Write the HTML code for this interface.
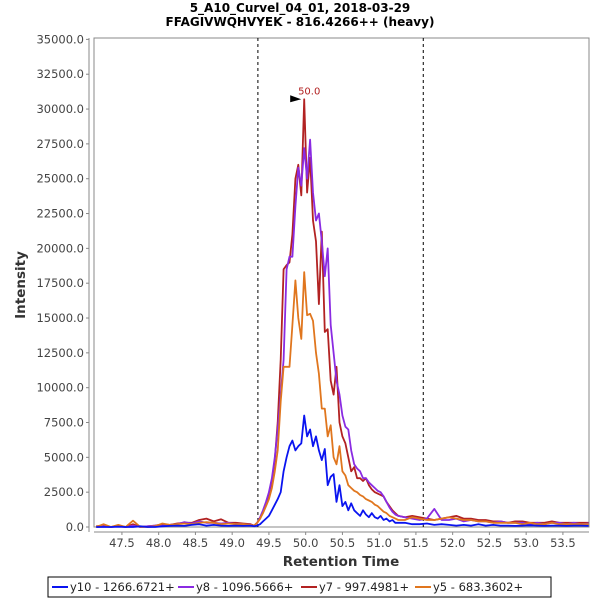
<!DOCTYPE html>
<html><head><meta charset="utf-8"><style>
body{margin:0;background:#fff;font-family:"DejaVu Sans",sans-serif;}
#wrap{position:relative;width:600px;height:600px;}
svg text{font-family:"DejaVu Sans",sans-serif;}
</style></head><body>
<div id="wrap">
<svg id="svg" width="600" height="600" xmlns="http://www.w3.org/2000/svg">
<text x="300" y="12" text-anchor="middle" font-size="12" font-weight="bold">5_A10_Curvel_04_01, 2018-03-29</text>
<text x="300" y="26" text-anchor="middle" font-size="12" font-weight="bold">FFAGIVWQHVYEK - 816.4266++ (heavy)</text>
<text transform="translate(25,285) rotate(-90)" text-anchor="middle" font-size="13.5" font-weight="bold" fill="#333">Intensity</text>
<text x="341" y="566" text-anchor="middle" font-size="13.5" font-weight="bold" fill="#333">Retention Time</text>
</svg>
</div>
<script>
const baseTimes=[47.15,47.25,47.35,47.45,47.55,47.65,47.75,47.85,47.95,48.05,48.15,48.25,48.35,48.45,48.55,48.65,48.75,48.85,48.95,49.05,49.15,49.25];
const peakTimes=[49.30,49.34,49.38,49.42,49.46,49.50,49.54,49.58,49.62,49.66,49.70,49.74,49.78,49.82,49.86,49.90,49.94,49.98,50.02,50.06,50.10,50.14,50.18,50.22,50.26,50.30,50.34,50.38,50.42,50.46,50.50,50.54,50.58,50.62,50.66,50.70,50.74,50.78,50.82,50.86,50.90,50.94,50.98,51.02,51.06,51.10,51.14,51.18,51.22,51.26];
const tailTimes=[51.35,51.45,51.55,51.65,51.75,51.85,51.95,52.05,52.15,52.25,52.35,52.45,52.55,52.65,52.75,52.85,52.95,53.05,53.15,53.25,53.35,53.45,53.55,53.65,53.75,53.85];
const times=baseTimes.concat(peakTimes,tailTimes);
const y10=[0,0,0,20,0,0,50,0,0,50,80,100,80,150,200,100,150,100,80,100,80,100,
50,100,200,400,600,800,1200,1600,2000,2500,4000,5000,5800,6200,5500,5800,6000,8000,6500,7000,5800,6500,5500,4800,5600,3000,3600,3800,1800,3000,1500,1800,1200,1700,1200,1000,800,1200,900,700,1000,700,600,800,500,600,400,500,300,300,
300,200,200,250,150,200,150,100,150,100,200,100,150,100,100,80,100,120,100,80,100,100,80,100,100,80];
const y8=[0,50,0,50,0,100,0,50,100,100,150,200,350,250,400,300,300,250,300,200,200,150,
100,300,700,1200,1800,2500,3500,5000,7000,9500,12000,18500,19400,19400,23000,25800,24500,27200,25000,27800,24000,22000,22500,20500,18000,20000,14500,12500,10500,9500,8000,7200,7000,5500,4500,4200,4000,3500,3500,3200,3000,2800,2600,2500,2200,1800,1400,1100,900,800,
700,600,500,600,1300,500,500,600,400,500,400,400,300,400,300,300,300,200,300,200,300,300,200,300,200,250];
const y7=[50,100,0,100,0,200,0,50,100,200,150,250,300,300,500,600,400,550,300,300,250,200,
100,300,600,1100,1700,2400,3300,4800,7500,12000,18500,18800,19000,21000,25000,26000,23800,30700,24000,26500,22000,20500,16000,21200,14000,14200,10500,9500,11500,7500,6500,6000,5000,4000,4300,3500,3500,3300,3500,3000,2700,2500,2400,2300,2200,1800,1500,1200,1000,800,
700,800,700,600,500,600,700,800,600,600,500,500,400,400,300,400,400,300,300,300,400,300,300,300,300,300];
const y5=[0,200,0,150,0,450,0,0,50,250,150,200,250,200,300,350,300,200,250,200,200,150,
100,300,600,1000,1500,2000,2800,4000,5500,9000,11500,11500,11500,14500,17700,15000,13500,18300,15200,15300,14800,12500,11000,8500,8500,6500,7300,5000,4500,5800,4000,3700,3000,2800,2600,2500,2300,2200,2000,1900,1800,1600,1500,1300,1100,1000,800,700,600,500,
500,700,600,500,500,600,700,600,500,500,400,400,300,300,300,300,200,300,200,200,300,200,200,200,200,200];
const seriesNames=["y10 - 1266.6721+","y8 - 1096.5666+","y7 - 997.4981+","y5 - 683.3602+"];
const seriesColors=["#0a14f0","#8a2be2","#b22222","#e0761e"];
const yTicks=[0,2500,5000,7500,10000,12500,15000,17500,20000,22500,25000,27500,30000,32500,35000];
const xTicks=[47.5,48.0,48.5,49.0,49.5,50.0,50.5,51.0,51.5,52.0,52.5,53.0,53.5];
const boundaries=[49.35,51.6];
const peakLabel={t:49.98,v:30700,text:"50.0"};

const NS="http://www.w3.org/2000/svg";
const svg=document.getElementById('svg');
const L=94,R=589,T=38,B=527;
const xMin=47.12,xMax=53.855,yMax=35100;
const xs=t=>L+(t-xMin)/(xMax-xMin)*(R-L);
const ys=v=>B-v/yMax*(B-T);
function mk(tag,attrs){const e=document.createElementNS(NS,tag);for(const k in attrs)e.setAttribute(k,attrs[k]);svg.appendChild(e);return e;}
const frame=mk('rect',{x:L,y:T,width:R-L,height:B-T,fill:'#fff',stroke:'#888','stroke-width':1});


const yAx=mk('line',{x1:89,y1:T,x2:89,y2:B+5,stroke:'#888'});


const xAx=mk('line',{x1:L,y1:532,x2:R,y2:532,stroke:'#888'});


yTicks.forEach(v=>{
  const y=ys(v);
  mk('line',{x1:86,y1:y,x2:89,y2:y,stroke:'#888'});
  const t=mk('text',{x:84,y:y+4,'text-anchor':'end','font-size':11.5,fill:'#444'});
  t.textContent=v.toFixed(1);
  
  
});
xTicks.forEach(v=>{
  const x=xs(v);
  mk('line',{x1:x,y1:532,x2:x,y2:535,stroke:'#888'});
  const t=mk('text',{x:x,y:547,'text-anchor':'middle','font-size':11.5,fill:'#444'});
  t.textContent=v.toFixed(1);
  
  
});
boundaries.forEach(b=>{
  const l=mk('line',{x1:xs(b),y1:T,x2:xs(b),y2:B,stroke:'#000','stroke-dasharray':'3,3'});
  
  
});
const all=[y10,y8,y7,y5];
[2,1,3,0].forEach(i=>{
  const d=times.map((t,j)=>(j?'L':'M')+xs(t).toFixed(1)+','+ys(all[i][j]).toFixed(1)).join('');
  const p=mk('path',{d:d,fill:'none',stroke:seriesColors[i],'stroke-width':1.8,'stroke-linejoin':'round'});
  
  
});
const px=xs(peakLabel.t),py=ys(peakLabel.v);
const arr=mk('polygon',{points:`${px-14},${py-4} ${px-3},${py} ${px-14},${py+3}`,fill:'#000'});


const pl=mk('text',{x:px+5,y:py-5,'text-anchor':'middle','font-size':10,fill:'#b22222'});
pl.textContent=peakLabel.text;


const lg=mk('rect',{x:48,y:577,width:503,height:20,fill:'#fff',stroke:'#000'});


const lx=[52,178,301,415];
seriesNames.forEach((n,i)=>{
  const ln=mk('line',{x1:lx[i],y1:587,x2:lx[i]+16,y2:587,stroke:seriesColors[i],'stroke-width':2});
  
  
  const t=mk('text',{x:lx[i]+18,y:591,'font-size':11.5,fill:'#222'});
  t.textContent=n;
  
  
});
</script>
</body></html>
